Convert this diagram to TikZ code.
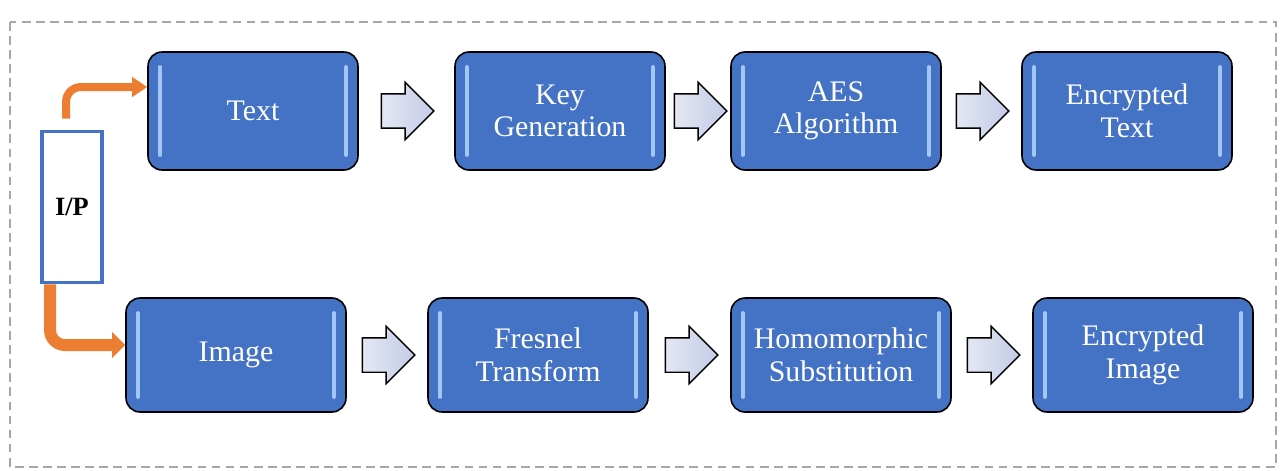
\documentclass[tikz,border=0pt]{standalone}
\usepackage{fontspec}
\setmainfont{Liberation Serif}
\usetikzlibrary{shapes.arrows,arrows.meta}

\definecolor{boxblue}{HTML}{4472C4}
\definecolor{shine}{HTML}{A3C6F5}
\definecolor{arrowfill}{HTML}{C3CBE6}
\definecolor{flow}{HTML}{ED7D31}

\tikzset{
    stage/.style={draw=black, line width=0.9pt, rounded corners=0.28cm, fill=boxblue,
        text=white, align=center, font=\fontsize{17}{18.5}\selectfont,
        minimum width=4.2cm, minimum height=2.36cm,
        path picture={
            \draw[shine, line width=2.2pt, line cap=round]
                ([shift={(0.24cm,-0.3cm)}]path picture bounding box.north west) --
                ([shift={(0.24cm,0.3cm)}]path picture bounding box.south west);
            \draw[shine, line width=2.2pt, line cap=round]
                ([shift={(-0.24cm,-0.3cm)}]path picture bounding box.north east) --
                ([shift={(-0.24cm,0.3cm)}]path picture bounding box.south east);
        }},
    widestage/.style={stage, minimum width=4.4cm, minimum height=2.28cm},
    nextarrow/.style={single arrow, draw=black, line width=0.8pt, left color=arrowfill!45!white,
        right color=arrowfill, shading angle=90,
        inner sep=0.33cm, minimum height=1.05cm, single arrow head extend=0.23cm},
    flowline/.style={flow, rounded corners=0.3cm}
}

\begin{document}
\begin{tikzpicture}[x=0.02cm, y=-0.02cm]
    \useasboundingbox (0,0) rectangle (1280,470);
    \draw[gray!70, dashed, line width=0.8pt, dash pattern=on 5pt off 3pt] (10,22) rectangle (1276,467);

    % input block
    \node[draw=boxblue, line width=2.2pt, fill=white, minimum width=1.2cm, minimum height=3.02cm,
        font=\bfseries\fontsize{15}{17}\selectfont] (ip) at (72,207) {I/P};

    % text chain
    \foreach \n/\x/\lbl in {t1/253/Text, t2/560/{Key\\Generation}, t3/836/{AES\\Algorithm}, t4/1127/{Encrypted\\Text}}{
        \node[stage] (\n) at (\x,111) {\lbl};
    }

    % image chain
    \foreach \n/\x/\lbl in {m1/236/Image, m2/538/{Fresnel\\Transform}, m3/841/{Homomorphic\\Substitution}, m4/1143/{Encrypted\\Image}}{
        \node[widestage] (\n) at (\x,355) {\lbl};
    }

    % block arrows between stages
    \foreach \a/\x/\y in {ta/399/111, tb/692/111, tc/974/111, ma/380/355, mb/683/355, mc/985/355}{
        \node[nextarrow] (\a) at (\x,\y) {};
    }

    % input to both chains
    \draw[flowline, line width=0.16cm, -{Triangle[length=0.3cm, width=0.38cm]}]
        ([shift={(-0.12cm,0.22cm)}]ip.north) |- ([yshift=0.48cm]t1.west);
    \draw[flowline, line width=0.24cm, -{Triangle[length=0.26cm, width=0.5cm]}]
        ([xshift=-0.44cm]ip.south) |- ([yshift=0.2cm]m1.west);
\end{tikzpicture}
\end{document}
